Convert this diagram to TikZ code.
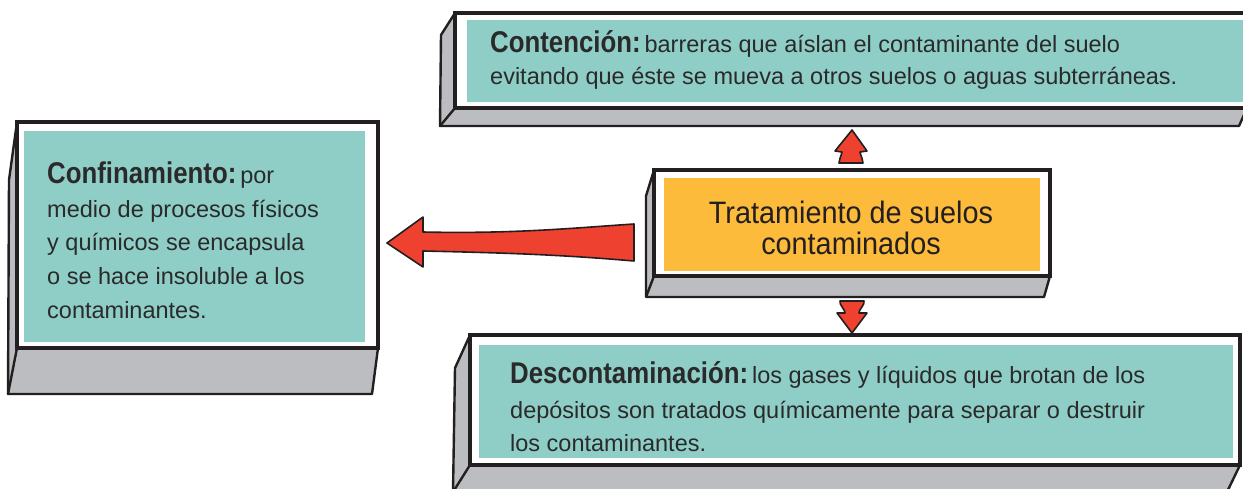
\documentclass[tikz,border=0pt]{standalone}
\usepackage{fontspec}
\setmainfont{Liberation Sans}
\newfontfamily\headfont{Liberation Sans}[FakeStretch=0.86]
\newfontfamily\titlefont{Liberation Sans}[FakeStretch=0.93]
\definecolor{boxteal}{HTML}{8FCEC7}
\definecolor{boxorange}{HTML}{FCBB3A}
\definecolor{boxgray}{HTML}{BCBDC1}
\definecolor{arrowred}{HTML}{EE4130}
\definecolor{inkblack}{HTML}{231F20}
\definecolor{textink}{HTML}{2A2A2A}
\tikzset{
  sideface/.style={fill=boxgray, draw=inkblack, line width=2.4pt, line join=round},
  frontface/.style={fill=white, draw=inkblack, line width=3.8pt},
  tealface/.style={fill=boxteal, draw=none},
  orangeface/.style={fill=boxorange, draw=none},
  redarrow/.style={fill=arrowred, draw=inkblack, line width=1.6pt, line join=round},
  bodytext/.style={anchor=base west, inner sep=0pt, text=textink, font=\fontsize{23.5}{27}\selectfont},
  titletext/.style={anchor=base, inner sep=0pt, text=inkblack, font=\titlefont\fontsize{31}{34}\selectfont},
}
\newcommand\hd[1]{{\headfont\bfseries\fontsize{30}{32}\selectfont #1}}
\begin{document}
\begin{tikzpicture}[x=1pt,y=-1pt]
\useasboundingbox (0,0) rectangle (1243,489);
\clip (0,0) rectangle (1243,489);

% ---- left box: Confinamiento
\draw[sideface] (17,122) -- (9,180) -- (8,394) -- (372,394) -- (378,348) -- cycle;
\draw[sideface] (17,348) -- (8,394);
\draw[frontface] (17,122) rectangle (378,348);
\fill[tealface] (24,131) rectangle (365,342);
\coordinate (conf) at (378,243);

% ---- top box: Contencion
\draw[sideface] (455,13) -- (441,35) -- (440,126) -- (1239,126) -- (1247,108) -- cycle;
\draw[sideface] (455,108) -- (440,126);
\draw[frontface] (455,13) rectangle (1247,108);
\fill[tealface] (467,20) rectangle (1250,102);
\coordinate (cont) at (852,126);

% ---- center box: Tratamiento
\draw[sideface] (654,170) -- (646,196) -- (646,297) -- (1044,297) -- (1050,276) -- cycle;
\draw[sideface] (654,276) -- (646,297);
\draw[frontface] (654,170) rectangle (1050,276);
\fill[orangeface] (664,178) rectangle (1040,271);
\coordinate (cenN) at (852,168);
\coordinate (cenS) at (852,299);
\coordinate (cenW) at (634,243);

% ---- bottom box: Descontaminacion
\draw[sideface] (470,335) -- (455,368) -- (453,492) -- (1227,492) -- (1240,465) -- cycle;
\draw[sideface] (470,465) -- (453,492);
\draw[frontface] (470,335) rectangle (1240,465);
\fill[tealface] (479,345) rectangle (1233,458);
\coordinate (desc) at (852,333);

% ---- arrows
% up arrow: from center box to top box
\draw[redarrow] (cont) ++(0,4) -- ++(15,21) -- ++(-7,1)
   .. controls ++(1,5) and ++(0,-4) .. ++(3,11) -- ++(-24,0)
   .. controls ++(0,-4) and ++(-1,5) .. ++(3,-11) -- ++(-7,-1) -- cycle;
% down arrow: from center box to bottom box
\draw[redarrow] (desc) -- ++(15,-20) -- ++(-8,0)
   .. controls ++(0,-4) and ++(1,4) .. ++(5,-12) -- ++(-24,0)
   .. controls ++(-1,4) and ++(0,-4) .. ++(5,12) -- ++(-8,0) -- cycle;
% left arrow: from center box to left box
\draw[redarrow] (conf) ++(9,0) -- ++(36,-26) -- ++(0,15)
   .. controls ++(90,2) and ++(-60,4) .. (cenW |- 0,224) -- (cenW |- 0,261)
   .. controls ++(-70,-6) and ++(90,2) .. (423,251) -- (423,267) -- cycle;

% ---- texts
\node[bodytext] (t1) at (490,53) {\hd{Contención:}\,barreras que aíslan el contaminante del suelo};
\node[bodytext] (t2) at (490,85) {evitando que éste se mueva a otros suelos o aguas subterráneas.};

\node[bodytext] (l1) at (47,184) {\hd{Confinamiento:}\,por};
\node[bodytext] (l2) at (47,218) {medio de procesos físicos};
\node[bodytext] (l3) at (47,251) {y químicos se encapsula};
\node[bodytext] (l4) at (47,285) {o se hace insoluble a los};
\node[bodytext] (l5) at (47,319) {contaminantes.};

\node[titletext] (c1) at (851,224) {Tratamiento de suelos};
\node[titletext] (c2) at (851,255) {contaminados};

\node[bodytext] (d1) at (510,383) {\hd{Descontaminación:}\,los gases y líquidos que brotan de los};
\node[bodytext] (d2) at (510,418) {depósitos son tratados químicamente para separar o destruir};
\node[bodytext] (d3) at (510,451) {los contaminantes.};
\end{tikzpicture}
\end{document}
